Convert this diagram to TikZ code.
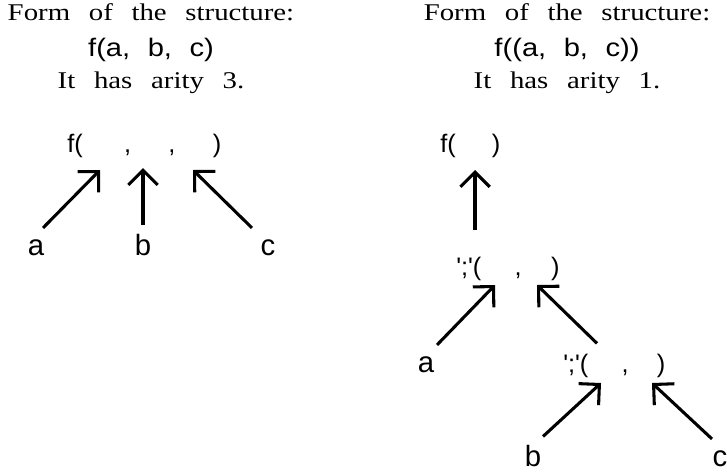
\documentclass[tikz,border=0pt]{standalone}
\usepackage{fontspec}
\setmainfont{Liberation Serif}
\newfontfamily\termfont{Liberation Sans}
\usetikzlibrary{arrows.meta,positioning}
\tikzset{>={Straight Barb[length=11pt,width=22pt]},
  link/.style={->,line width=2.3pt,line cap=butt},
  caption/.style={anchor=base,inner sep=0pt,font=\fontsize{18}{24}\selectfont},
  captionterm/.style={anchor=base,inner sep=0pt,font=\termfont\fontsize{19}{24}\selectfont},
  term/.style={anchor=base west,inner sep=0pt,font=\termfont\fontsize{19}{24}\selectfont},
  leaf/.style={anchor=base,inner sep=0pt,font=\termfont\fontsize{22}{24}\selectfont}}
\newcommand\gap[1]{\hspace{#1pt}}
\newcommand\widetext[3]{\scalebox{#1}[1]{\spaceskip=#2em\relax #3}}
\newcommand\qsemi{\textquotesingle;\textquotesingle}

\begin{document}
\begin{tikzpicture}[x=.75pt,y=-.75pt]
\useasboundingbox (0,0) rectangle (727,471);
% left: f with three arguments
\node[caption] (lform) at (151,21) {\widetext{1.2}{.65}{Form of the structure:}};
\node[captionterm] (lshape) at (151,56) {\widetext{1.15}{.6}{f(a, b, c)}};
\node[caption] (larity) at (151,88) {\widetext{1.2}{.65}{It has arity 3.}};
\node[term] (lf) at (67,152) {f(\gap{31},\gap{28},\gap{28})};
\coordinate (ls1) at (100,170);\coordinate (ls2) at (143,168);\coordinate (ls3) at (193,170);
\node[leaf] (la) at (36,255) {a};
\node[leaf] (lb) at (143,255) {b};
\node[leaf] (lc) at (268,255) {c};
\draw[link] ([shift={(7,-11)}]la.north) -- (ls1);
\draw[link] ([shift={(0,-8)}]lb.north) -- (ls2);
\draw[link] ([shift={(-16,-11)}]lc.north) -- (ls3);
% right: f with one argument, a nested ',' pair
\node[caption] (rform) at (567,21) {\widetext{1.2}{.65}{Form of the structure:}};
\node[captionterm] (rshape) at (567,56) {\widetext{1.15}{.6}{f((a, b, c))}};
\node[caption] (rarity) at (567,88) {\widetext{1.2}{.65}{It has arity 1.}};
\node[term] (rf) at (440,152) {f(\gap{27})};
\node[term] (rp1) at (456,275) {\qsemi(\gap{25},\gap{22})};
\node[term] (rp2) at (563,372) {\qsemi(\gap{25},\gap{21})};
\coordinate (rs0) at (475,170);
\coordinate (rs1) at (495,285);\coordinate (rs2) at (537,285);
\coordinate (rs3) at (601,383);\coordinate (rs4) at (652,383);
\node[leaf] (ra) at (426,372) {a};
\node[leaf] (rb) at (533,466) {b};
\node[leaf] (rc) at (720,466) {c};
\draw[link] ([shift={(19,-26)}]rp1.north west) -- (rs0);
\draw[link] ([shift={(11,-11)}]ra.north) -- (rs1);
\draw[link] ([shift={(34,-10)}]rp2.north west) -- (rs2);
\draw[link] ([shift={(10,-8)}]rb.north) -- (rs3);
\draw[link] ([shift={(-8,-11)}]rc.north) -- (rs4);
\end{tikzpicture}
\end{document}
